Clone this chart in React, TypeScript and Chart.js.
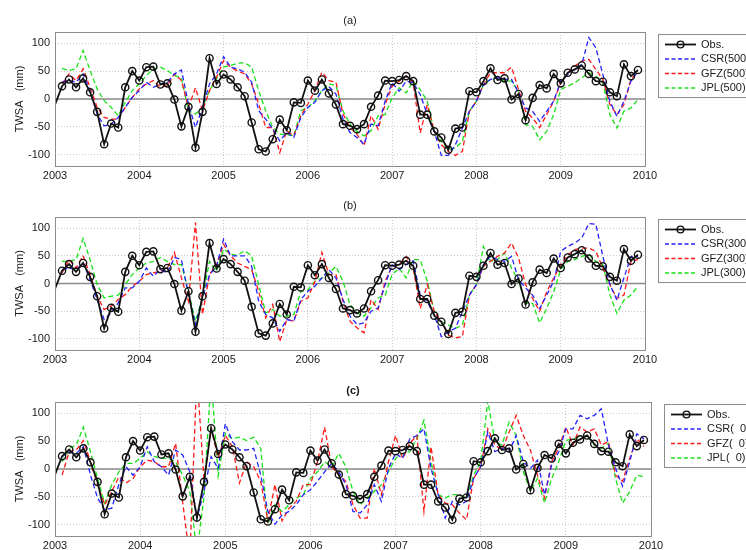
import React, { useEffect, useRef } from "react";
import { Chart, registerables } from "chart.js";

Chart.register(...registerables);

// ---------- data ----------
const START_YEAR = 2003;
const YEAR_TICKS = [2003, 2004, 2005, 2006, 2007, 2008, 2009, 2010];
const Y_TICKS = [-100, -50, 0, 50, 100];

// Observed TWSA (mm), monthly from Jan 2003 (index 0)
const obsTWSA = [
  -10, 23, 35, 21, 37, 12, -23, -81, -44, -51,
  21, 50, 33, 57, 58, 26, 28, -1, -49, -14,
  -87, -23, 73, 27, 44, 35, 21, 5, -42, -90,
  -94, -72, -37, -56, -6, -7, 33, 15, 35, 10,
  -10, -45, -48, -54, -45, -14, 6, 33, 32, 34,
  41, 32, -28, -28, -58, -69, -91, -53, -51, 14,
  12, 32, 55, 34, 37, -1, 9, -38, 2, 25,
  19, 45, 28, 47, 53, 60, 45, 32, 31, 12,
  5, 62, 41, 52,
];

// GRACE solutions, monthly from Feb 2003 (month index 1)
const csr500 = [
  30, 33, 30, 45, 15, -27, -48, -45, -33, -15,
  3, 15, 30, 21, 27, 30, 45, 52, -9, -51,
  -15, 27, 45, 76, 57, 54, 48, 30, -21, -36,
  -54, -75, -60, -69, -33, -15, -6, 15, 22, 9,
  -36, -60, -69, -81, -45, -48, -4, 29, 14, 32,
  29, 8, -28, -58, -101, -101, -82, -52, -22, -4,
  26, 35, 38, 35, 35, 11, -16, -22, -40, -22,
  -4, 32, 44, 53, 62, 110, 92, 44, -4, -31,
  -4, 32, 50,
];
const gfz500 = [
  27, 45, 33, 54, 21, -15, -33, -36, -36, -15,
  3, 18, 27, 33, 21, 24, 45, 33, -15, 20,
  -21, 15, 39, 69, 57, 50, 45, 27, -9, -51,
  -51, -96, -57, -66, -30, -9, 15, 48, 33, 30,
  -27, -51, -63, -84, -30, -54, -10, 23, 32, 41,
  29, -61, -10, -58, -82, -94, -101, -94, -22, -4,
  26, 47, 47, 47, 57, 17, -22, -34, -51, -28,
  -4, 29, 47, 59, 68, 71, 53, 35, -10, -28,
  -10, 35, 49,
];
const jpl500 = [
  55, 51, 54, 87, 51, 18, -3, -15, -30, -6,
  15, 27, 42, 54, 57, 51, 42, 38, -21, -27,
  -15, 15, 36, 57, 60, 64, 65, 57, 15, -21,
  -51, -63, -64, -66, -21, -15, -3, 15, 27, 24,
  -21, -45, -58, -66, -57, -30, -28, 2, 20, 11,
  32, 17, -4, -58, -76, -91, -88, -76, -22, -4,
  26, 35, 38, 32, 32, 14, -46, -49, -73, -58,
  -28, 17, 23, 29, 38, 47, 41, 29, -28, -52,
  -22, -16, -1,
];
const csr300 = [
  25, 28, 25, 37, 7, -29, -65, -53, -35, -8,
  -8, 4, 28, 13, 25, 19, 47, 43, -20, -74,
  -26, 16, 31, 80, 50, 50, 50, 31, -32, -56,
  -62, -86, -65, -68, -29, -14, -5, 10, 25, 10,
  -29, -59, -74, -71, -50, -44, -2, 34, 25, 34,
  41, -21, -33, -57, -96, -87, -81, -51, -21, -2,
  34, 49, 43, 40, 49, 7, -8, -21, -45, -21,
  4, 58, 67, 73, 82, 108, 107, 49, -2, -30,
  10, 49, 49,
];
const gfz300 = [
  19, 43, 28, 50, 16, -23, -47, -41, -29, -20,
  -5, 4, 16, 19, 22, 28, 56, 10, -32, 110,
  -56, 16, 34, 71, 50, 37, 31, 25, -14, -62,
  -38, -105, -65, -68, -32, -26, 4, 56, 16, 16,
  -32, -68, -80, -89, -29, -47, 4, 31, 34, 49,
  28, -45, -2, -51, -69, -93, -98, -96, -21, -2,
  31, 40, 49, 55, 73, 46, -2, -27, -50, -15,
  10, 34, 52, 61, 64, 64, 58, 28, -2, -27,
  -21, 40, 43,
];
const jpl300 = [
  40, 40, 43, 81, 43, -2, -26, -23, -21, -2,
  16, 28, 37, 40, 47, 40, 34, 34, -14, -68,
  -26, 40, 22, 62, 53, 51, 59, 50, -2, -53,
  -47, -59, -59, -56, -14, -11, 4, 10, 19, 31,
  4, -38, -53, -59, -44, -26, -21, 16, 28, 10,
  43, 43, 4, -51, -69, -75, -81, -75, -21, -2,
  67, 40, 43, 55, 28, 4, -36, -36, -71, -45,
  -15, 25, 40, 43, 49, 52, 40, 34, -21, -54,
  -30, -21, -5,
];
const csr0 = [
  22, 31, 28, 40, -11, -52, -73, -70, -28, 4,
  -11, 4, 40, 13, 4, -11, 34, 25, -5, -88,
  -40, 22, 1, 81, 49, 34, 34, 37, -11, -76,
  -99, -82, -76, -64, -46, -37, -22, -5, 10, -5,
  -28, -76, -79, -64, -28, -58, 1, 28, 19, 54,
  60, 72, 1, -45, -88, -58, -64, -58, -17, 4,
  66, 31, 37, 31, 60, 13, 1, 16, -46, 7,
  31, 72, 72, 96, 90, 96, 108, 43, 1, -31,
  13, 63, 54,
];
const gfz0 = [
  -11, 31, 34, 51, 13, -28, -64, -40, -14, -25,
  -17, 4, 16, 13, 4, 4, 46, -60, -160, 170,
  -20, 72, 20, 60, 40, -25, 13, 4, -22, -93,
  -28, -93, -70, -58, -28, -28, 13, 75, 4, -11,
  -22, -64, -88, -88, 1, -46, 13, 60, 19, 46,
  60, -76, 40, -46, -61, -64, -79, -91, -17, 4,
  72, 43, 34, 66, 96, 60, 34, -11, -52, 13,
  37, 75, 43, 75, 66, 72, 43, 49, -11, -22,
  19, 54, 40,
];
const jpl0 = [
  13, 37, 43, 75, 31, -17, -61, -28, -5, 10,
  10, 19, 31, 22, 19, 19, 13, -11, -40, -150,
  -50, 165, -12, 64, 54, 57, 51, 57, 37, -99,
  -64, -76, -64, -52, -46, -17, -5, 13, 4, 28,
  4, -40, -64, -52, -40, -28, -5, 19, 28, 31,
  54, 87, 13, -46, -52, -46, -46, -52, -11, 13,
  122, 49, 43, 84, 60, -5, -40, -17, -61, -17,
  13, 51, 54, 57, 60, 43, 37, 46, -17, -61,
  -40, -11, -14,
];

const LEGEND_A = ["Obs.", "CSR(500)", "GFZ(500)", "JPL(500)"];
const LEGEND_B = ["Obs.", "CSR(300)", "GFZ(300)", "JPL(300)"];
const LEGEND_C = ["Obs.", "CSR(  0)", "GFZ(  0)", "JPL(  0)"];

// ---------- layout / style ----------
const WIDTH = 746;
const FONT = 'Arial, "Liberation Sans", Helvetica, sans-serif';
const TEXT = "#1a1a1a";
const MODEL_COLORS = ["rgb(35,35,255)", "rgb(255,25,25)", "rgb(25,225,25)"];

type Panel = {
  title: string;
  bold: boolean;
  top: number;
  height: number;
  plotTop: number;
  plotHeight: number;
  plotRight: number;
  legend: string[];
  series: number[][];
};

const PANELS: Panel[] = [
  { title: "(a)", bold: false, top: 0, height: 185, plotTop: 32, plotHeight: 134, plotRight: 645, legend: LEGEND_A, series: [csr500, gfz500, jpl500] },
  { title: "(b)", bold: false, top: 185, height: 180, plotTop: 32, plotHeight: 133, plotRight: 645, legend: LEGEND_B, series: [csr300, gfz300, jpl300] },
  { title: "(c)", bold: true, top: 370, height: 180, plotTop: 32, plotHeight: 134, plotRight: 651, legend: LEGEND_C, series: [csr0, gfz0, jpl0] },
];

function decorPlugin(panel: Panel) {
  return {
    id: "panelDecor",
    beforeDatasetsDraw(chart: any) {
      const { ctx, chartArea } = chart;
      const y0 = chart.scales.y.getPixelForValue(0);
      ctx.save();
      ctx.strokeStyle = "#8a8a8a";
      ctx.lineWidth = 1.4;
      ctx.beginPath();
      ctx.moveTo(chartArea.left, y0);
      ctx.lineTo(chartArea.right, y0);
      ctx.stroke();
      ctx.restore();
    },
    afterDraw(chart: any) {
      const { ctx, chartArea } = chart;
      const { left, right, top, bottom } = chartArea;
      ctx.save();
      // axes box
      ctx.strokeStyle = "#8c8c8c";
      ctx.lineWidth = 1;
      ctx.strokeRect(Math.round(left) + 0.5, Math.round(top) + 0.5, Math.round(right - left), Math.round(bottom - top));

      // title
      ctx.fillStyle = TEXT;
      ctx.font = `${panel.bold ? "bold " : ""}11px ${FONT}`;
      ctx.textAlign = "center";
      ctx.textBaseline = "middle";
      ctx.fillText(panel.title, (left + right) / 2, top - 11.5);

      // y label
      ctx.save();
      ctx.font = `11px ${FONT}`;
      ctx.translate(20, (top + bottom) / 2);
      ctx.rotate(-Math.PI / 2);
      ctx.fillText("TWSA   (mm)", 0, 0);
      ctx.restore();

      // legend
      const bx = right + 13;
      const by = top + 2;
      ctx.fillStyle = "#fff";
      ctx.fillRect(bx, by, 200, 63);
      ctx.strokeStyle = "#8c8c8c";
      ctx.lineWidth = 1;
      ctx.strokeRect(Math.round(bx) + 0.5, Math.round(by) + 0.5, 200, 63);
      const x1 = right + 20;
      const x2 = right + 51;
      panel.legend.forEach((label, k) => {
        const yy = top + 12.5 + k * 14.5;
        ctx.save();
        ctx.beginPath();
        if (k === 0) {
          ctx.strokeStyle = "#111";
          ctx.lineWidth = 1.8;
        } else {
          ctx.strokeStyle = MODEL_COLORS[k - 1];
          ctx.lineWidth = 1.3;
          ctx.setLineDash([4, 2.5]);
        }
        ctx.moveTo(x1, yy);
        ctx.lineTo(x2, yy);
        ctx.stroke();
        if (k === 0) {
          ctx.setLineDash([]);
          ctx.lineWidth = 1.4;
          ctx.beginPath();
          ctx.arc((x1 + x2) / 2, yy, 3.4, 0, Math.PI * 2);
          ctx.stroke();
        }
        ctx.restore();
        ctx.fillStyle = TEXT;
        ctx.font = `11px ${FONT}`;
        ctx.textAlign = "left";
        ctx.textBaseline = "middle";
        ctx.fillText(label, right + 56, yy);
      });
      ctx.restore();
    },
  };
}

function buildChart(canvas: HTMLCanvasElement, panel: Panel) {
  const obsData = obsTWSA.map((v, i) => ({ x: START_YEAR + i / 12, y: v }));
  const datasets: any[] = [
    {
      label: panel.legend[0],
      data: obsData,
      borderColor: "#111",
      borderWidth: 1.8,
      pointRadius: obsTWSA.map((_, i) => (i === 0 ? 0 : 3.6)),
      pointBorderColor: "#111",
      pointBackgroundColor: "rgba(0,0,0,0)",
      pointBorderWidth: 1.4,
      tension: 0,
    },
    ...panel.series.map((s, k) => ({
      label: panel.legend[k + 1],
      data: s.map((v, i) => ({ x: START_YEAR + (i + 1) / 12, y: v })),
      borderColor: MODEL_COLORS[k],
      borderWidth: 1.3,
      borderDash: [5, 3],
      pointRadius: 0,
      tension: 0,
    })),
  ];
  const tickFont = { family: FONT, size: 11 };
  return new Chart(canvas, {
    type: "line",
    data: { datasets },
    options: {
      animation: false,
      responsive: false,
      events: [],
      layout: { padding: { left: 0, top: panel.plotTop, right: WIDTH - panel.plotRight, bottom: 0 } },
      plugins: { legend: { display: false }, tooltip: { enabled: false }, title: { display: false } },
      scales: {
        x: {
          type: "linear",
          min: START_YEAR,
          max: 2010,
          afterBuildTicks: (s: any) => {
            s.ticks = YEAR_TICKS.map((v) => ({ value: v }));
          },
          afterFit: (s: any) => {
            s.height = panel.height - panel.plotTop - panel.plotHeight;
          },
          ticks: { callback: (v: any) => String(v), font: tickFont, color: TEXT, padding: 3.5, maxRotation: 0, autoSkip: false },
          grid: { color: "#c8c8c8", lineWidth: 1, drawTicks: false },
          border: { display: false, dash: [1, 2] },
        },
        y: {
          type: "linear",
          min: -120,
          max: 120,
          afterBuildTicks: (s: any) => {
            s.ticks = Y_TICKS.map((v) => ({ value: v }));
          },
          afterFit: (s: any) => {
            s.width = 55;
          },
          ticks: { callback: (v: any) => String(v), font: tickFont, color: TEXT, padding: 5 },
          grid: { color: "#c8c8c8", lineWidth: 1, drawTicks: false },
          border: { display: false, dash: [1, 2] },
        },
      },
    },
    plugins: [decorPlugin(panel)],
  } as any);
}

function PanelChart({ panel }: { panel: Panel }) {
  const ref = useRef<HTMLCanvasElement | null>(null);
  useEffect(() => {
    if (!ref.current) return;
    const chart = buildChart(ref.current, panel);
    return () => chart.destroy();
  }, [panel]);
  return (
    <canvas
      ref={ref}
      width={WIDTH}
      height={panel.height}
      style={{ position: "absolute", left: 0, top: panel.top, width: WIDTH, height: panel.height }}
    />
  );
}

export default function App() {
  return (
    <div style={{ position: "fixed", left: 0, top: 0, width: WIDTH, height: 550, background: "#fff", overflow: "hidden" }}>
      {PANELS.map((p) => (
        <PanelChart key={p.title} panel={p} />
      ))}
    </div>
  );
}
